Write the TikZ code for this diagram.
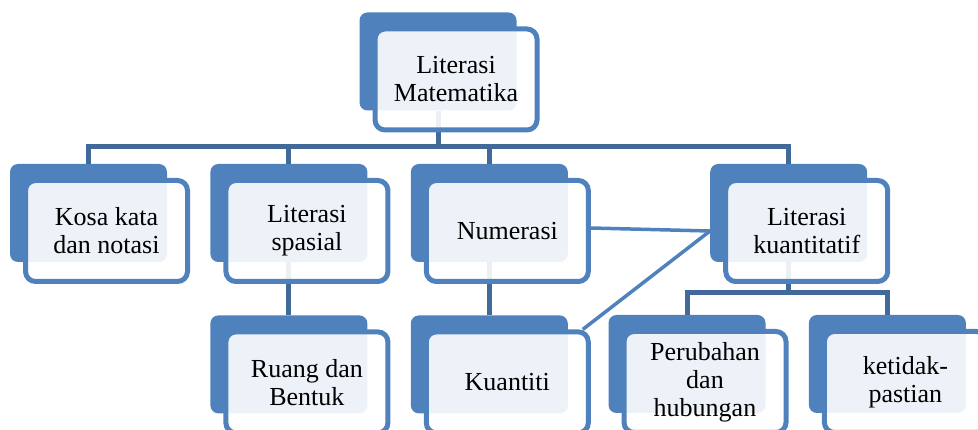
\documentclass[tikz,border=0pt]{standalone}
\usepackage{fontspec}
\setmainfont{Liberation Serif}
\usepackage{tikz}
\usetikzlibrary{positioning}

\definecolor{smartblue}{RGB}{79,129,189}
\definecolor{busblue}{RGB}{65,105,154}

\begin{document}
\begin{tikzpicture}[x=1pt,y=-1pt,node distance=43pt,
	back node/.style={rectangle,rounded corners=8pt,fill=smartblue,inner sep=0pt,
		minimum width=157pt,minimum height=98pt},
	front node/.style={rectangle,rounded corners=10pt,draw=smartblue,line width=5pt,
		fill=white,fill opacity=0.9,text opacity=1,inner sep=0pt,align=center,
		minimum width=162pt,minimum height=101pt,font=\fontsize{26}{28}\selectfont},
	bus/.style={draw=busblue,line width=5pt},
	link/.style={draw=smartblue,line width=3.5pt}]
	
	\clip (0,0) rectangle (978,430);
	
	% back boxes
	\node[back node] (topB) at (438,61.5) {};
	\node[back node] (kosaB) at (88.5,213) {};
	\node[back node] (spasialB) [right=of kosaB] {};
	\node[back node] (numB) [right=of spasialB] {};
	\node[back node] (kuantB) [right=142pt of numB] {};
	\node[back node] (ruangB) [below=53pt of spasialB] {};
	\node[back node] (kuantitiB) [below=53pt of numB] {};
	\node[back node] (perB) at (687,364) {};
	\node[back node] (ketB) [right=of perB] {};
	
	\coordinate (busA) at (0,147);
	\coordinate (busB) at (0,293);
	
	% connectors
	\draw[bus] (topB.south) |- (kosaB.north |- busA) -- (kosaB.north);
	\draw[bus] (topB.south) |- (spasialB.north |- busA) -- (spasialB.north);
	\draw[bus] (topB.south) |- (numB.north |- busA) -- (numB.north);
	\draw[bus] (topB.south) |- (kuantB.north |- busA) -- (kuantB.north);
	\draw[bus] (spasialB.south) -- (ruangB.north);
	\draw[bus] (numB.south) -- (kuantitiB.north);
	\draw[bus] (kuantB.south) |- (perB.north |- busB) -- (perB.north);
	\draw[bus] (kuantB.south) |- (ketB.north |- busB) -- (ketB.north);
	
	% front boxes
	\node[front node] (topF) at ([shift={(18,18)}]topB) {Literasi\\Matematika};
	\node[front node] (kosaF) at ([shift={(18,18)}]kosaB) {Kosa kata\\dan notasi};
	\node[front node] (spasialF) at ([shift={(18,18)}]spasialB) {Literasi\\spasial};
	\node[front node] (numF) at ([shift={(18,18)}]numB) {Numerasi};
	\node[front node] (kuantF) at ([shift={(18,18)}]kuantB) {Literasi\\kuantitatif};
	\node[front node] (ruangF) at ([shift={(18,18)}]ruangB) {Ruang dan\\Bentuk};
	\node[front node] (kuantitiF) at ([shift={(18,18)}]kuantitiB) {Kuantiti};
	\node[front node] (perF) at ([shift={(18,18)}]perB) {Perubahan\\dan\\hubungan};
	\node[front node] (ketF) at ([shift={(18,18)}]ketB) {ketidak-\\pastian};
	
	\coordinate (hub) at (kuantB.west |- numF.east);
	\draw[link] ([yshift=3pt]numF.east) -- (hub);
	\draw[link] (hub) -- ([xshift=-8pt]kuantitiF.north east);
\end{tikzpicture}
\end{document}
